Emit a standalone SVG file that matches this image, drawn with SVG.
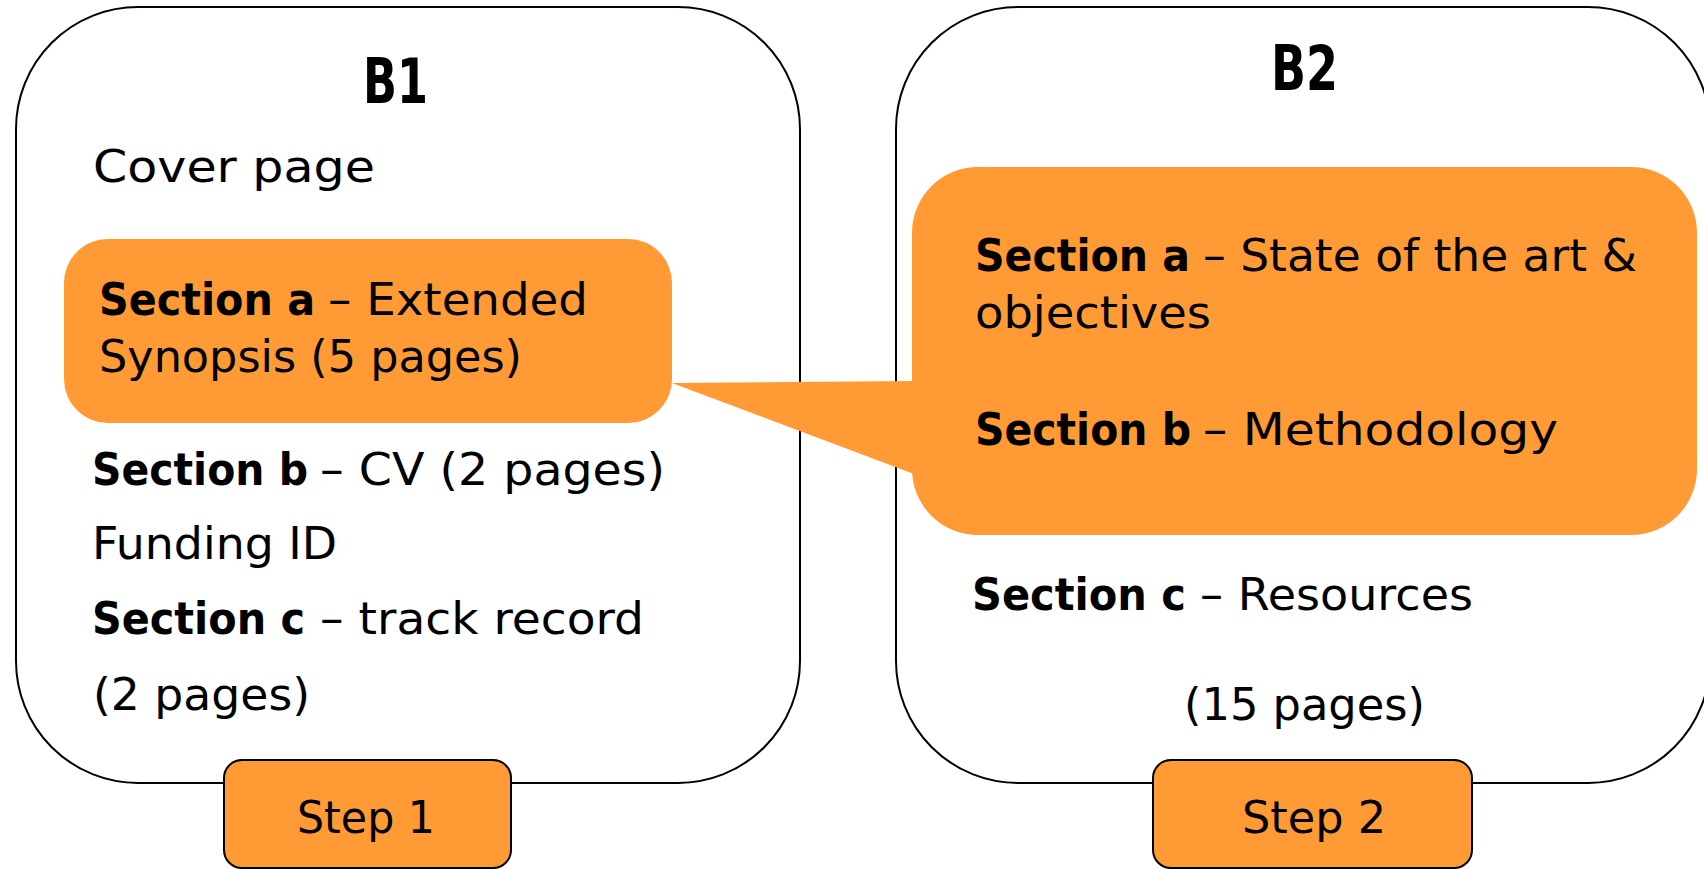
<svg xmlns="http://www.w3.org/2000/svg" width="1704" height="870" viewBox="0 0 1704 870">
<style>
.frame{fill:#FFFFFF;stroke:#000000;stroke-width:2}
.hl{fill:#FF9A35;stroke:none}
.step{fill:#FF9A35;stroke:#000000;stroke-width:2}
text{font-family:"DejaVu Sans","Liberation Sans",sans-serif;fill:#000000}
.t{font-size:45px}
.b{font-size:45px;font-weight:bold}
.h{font-size:62px;font-weight:bold}
</style>
<rect width="1704" height="870" fill="#FFFFFF"/>
<g id="B1">
  <rect class="frame" x="16" y="7" width="784" height="776" rx="122" ry="122"/>
  <text class="h" x="363" y="103" textLength="65" lengthAdjust="spacingAndGlyphs">B1</text>
  <text class="t" x="93" y="182" textLength="282" lengthAdjust="spacingAndGlyphs">Cover page</text>
  <g id="B1-section-a">
    <rect class="hl" x="64" y="239" width="608" height="184" rx="44" ry="44"/>
    <text class="b" x="99" y="315" textLength="216" lengthAdjust="spacingAndGlyphs">Section a</text>
    <text class="t" x="328" y="315" textLength="260" lengthAdjust="spacingAndGlyphs">– Extended</text>
    <text class="t" x="99" y="372" textLength="423" lengthAdjust="spacingAndGlyphs">Synopsis (5 pages)</text>
  </g>
  <text class="b" x="92" y="485" textLength="216" lengthAdjust="spacingAndGlyphs">Section b</text>
  <text class="t" x="320" y="485" textLength="345" lengthAdjust="spacingAndGlyphs">– CV (2 pages)</text>
  <text class="t" x="92" y="559" textLength="245" lengthAdjust="spacingAndGlyphs">Funding ID</text>
  <text class="b" x="92" y="634" textLength="213" lengthAdjust="spacingAndGlyphs">Section c</text>
  <text class="t" x="320" y="634" textLength="324" lengthAdjust="spacingAndGlyphs">– track record</text>
  <text class="t" x="93" y="710" textLength="217" lengthAdjust="spacingAndGlyphs">(2 pages)</text>
  <g id="step1">
    <rect class="step" x="224" y="760" width="287" height="108" rx="18" ry="18"/>
    <text class="t" x="297" y="833" textLength="138" lengthAdjust="spacingAndGlyphs">Step 1</text>
  </g>
</g>
<g id="B2">
  <rect class="frame" x="896" y="7" width="814" height="776" rx="122" ry="122"/>
  <text class="h" x="1271" y="90" textLength="67" lengthAdjust="spacingAndGlyphs">B2</text>
  <g id="B2-sections">
    <rect class="hl" x="912" y="167" width="785" height="368" rx="66" ry="66"/>
    <text class="b" x="975" y="271" textLength="215" lengthAdjust="spacingAndGlyphs">Section a</text>
    <text class="t" x="1203" y="271" textLength="434" lengthAdjust="spacingAndGlyphs">– State of the art &amp;</text>
    <text class="t" x="975" y="328" textLength="236" lengthAdjust="spacingAndGlyphs">objectives</text>
    <text class="b" x="975" y="445" textLength="216" lengthAdjust="spacingAndGlyphs">Section b</text>
    <text class="t" x="1203" y="445" textLength="355" lengthAdjust="spacingAndGlyphs">– Methodology</text>
  </g>
  <text class="b" x="972" y="610" textLength="214" lengthAdjust="spacingAndGlyphs">Section c</text>
  <text class="t" x="1200" y="610" textLength="273" lengthAdjust="spacingAndGlyphs">– Resources</text>
  <text class="t" x="1184" y="720" textLength="241" lengthAdjust="spacingAndGlyphs">(15 pages)</text>
  <g id="step2">
    <rect class="step" x="1153" y="760" width="319" height="108" rx="18" ry="18"/>
    <text class="t" x="1242" y="833" textLength="144" lengthAdjust="spacingAndGlyphs">Step 2</text>
  </g>
</g>
<g id="connectors">
  <polygon class="hl" points="672,383 914,381 914,474"/>
</g>
</svg>
